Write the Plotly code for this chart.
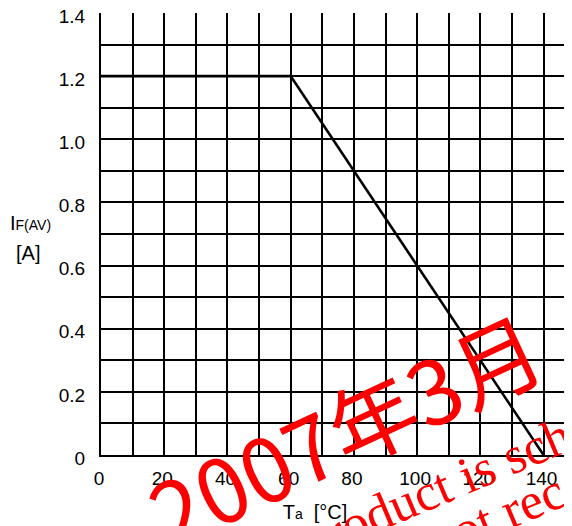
import math
import plotly.graph_objects as go

# ---- data ----
temps = [0, 60, 140]            # Ta [°C]
current = [1.2, 1.2, 0.0]       # IF(AV) [A]

x_tick_vals = [0, 10, 20, 30, 40, 50, 60, 70, 80, 90, 100, 110, 120, 130, 140]
x_tick_text = ["0", "", "20", "", "40", "", "60", "", "80", "", "100", "", "120", "", "140"]
y_tick_vals = [0, 0.1, 0.2, 0.3, 0.4, 0.5, 0.6, 0.7, 0.8, 0.9, 1.0, 1.1, 1.2, 1.3, 1.4]
y_tick_text = ["0", "", "0.2", "", "0.4", "", "0.6", "", "0.8", "", "1.0", "", "1.2", "", "1.4"]

y_title = "I<span style='font-size:14px'>F(AV)</span>"
y_unit = "[A]"
x_title = "T<span style='font-size:14px'>a</span>  [°C]"

watermark_date = "2007年3月"
watermark_line1 = "This product is scheduled to be discontinued."
watermark_line2 = "It is not recommended for new designs."

OFF = 8  # page body margin
W, H = 572, 526
ML, MT = 101 - OFF, 13 - OFF
PR, PB = 572 - OFF, 455 - OFF   # plot right / bottom in figure px
MR, MB = W - PR, H - PB
PW, PH = PR - ML, PB - MT


def px(x):   # screen px -> paper
    return (x - OFF - ML) / PW


def py(y):
    return (PB - (y - OFF)) / PH


fig = go.Figure()
fig.add_trace(go.Scatter(
    x=temps, y=current, mode="lines",
    line=dict(color="black", width=2.6),
    hoverinfo="skip", showlegend=False,
))

axis_font = dict(family="Liberation Sans, Arial, sans-serif", size=19, color="black")

fig.update_xaxes(
    range=[0, 149], tickvals=x_tick_vals, ticktext=x_tick_text,
    showgrid=True, gridcolor="black", gridwidth=1.5,
    showline=True, linecolor="black", linewidth=2.2, mirror=False,
    zeroline=False, ticks="", tickfont=axis_font, ticklabelstandoff=5,
    ticklabelshift=-2, ticklabeloverflow="allow",
)
fig.update_yaxes(
    range=[0, 1.4], tickvals=y_tick_vals, ticktext=y_tick_text,
    showgrid=True, gridcolor="black", gridwidth=1.5,
    showline=True, linecolor="black", linewidth=2.2,
    zeroline=False, ticks="", tickfont=axis_font, ticklabelstandoff=10,
    ticklabelshift=3, ticklabeloverflow="allow",
)


def text_box(text, x0, x1, yc, pos, size=19):
    return dict(
        type="rect", xref="paper", yref="paper", layer="above",
        x0=px(x0), x1=px(x1), y0=py(yc + 10), y1=py(yc - 10),
        line=dict(color="rgba(0,0,0,0)", width=0), fillcolor="rgba(0,0,0,0)",
        label=dict(text=text, textposition=pos, padding=0,
                   font=dict(family="Liberation Sans, Arial, sans-serif", size=size, color="black")),
    )


def label_line(text, cx, cy, angle_deg, size, family):
    a = math.radians(angle_deg)
    dx, dy = 60 * math.cos(a), 60 * math.sin(a)
    return dict(
        type="line", xref="paper", yref="paper", layer="above",
        x0=px(cx - dx), y0=py(cy + dy), x1=px(cx + dx), y1=py(cy - dy),
        line=dict(color="rgba(0,0,0,0)", width=0),
        label=dict(text=text, textposition="middle", yanchor="middle", padding=0,
                   font=dict(family=family, size=size, color="#ff0000")),
    )


shapes = [
    text_box(y_title, 7, 70, 221, "middle left", 20),
    text_box(y_unit, 13, 70, 251, "middle left", 20),
    text_box(x_title, 250, 380, 510, "middle center", 20),
    label_line(watermark_date, 350, 440, 25, 88, "Noto Sans CJK JP"),
    label_line(watermark_line1, 636, 397, 23, 52, "Liberation Serif"),
    label_line(watermark_line2, 721, 414, 23, 52, "Liberation Serif"),
]

fig.update_layout(
    width=W, height=H,
    margin=dict(l=ML, r=MR, t=MT, b=MB, pad=0, autoexpand=False),
    paper_bgcolor="white", plot_bgcolor="white",
    shapes=shapes,
    showlegend=False,
)

fig.write_html("out.html")
